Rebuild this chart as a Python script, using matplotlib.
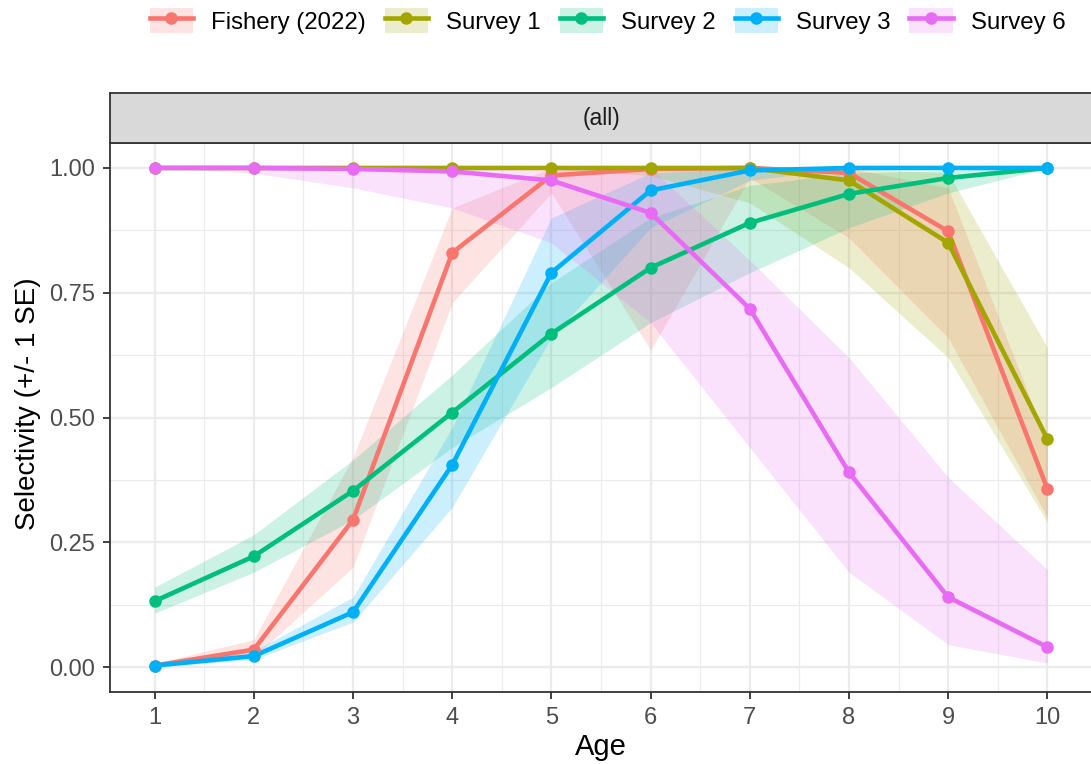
import matplotlib
matplotlib.use("Agg")
import matplotlib.pyplot as plt
from matplotlib.lines import Line2D
from matplotlib.patches import Patch
from matplotlib.legend_handler import HandlerTuple

plt.rcParams['font.family'] = ['Liberation Sans', 'DejaVu Sans']

ages = [1, 2, 3, 4, 5, 6, 7, 8, 9, 10]
series_names = ["Fishery (2022)", "Survey 1", "Survey 2", "Survey 3", "Survey 6"]

fishery = [0.003, 0.035, 0.295, 0.83, 0.985, 0.998, 1.0, 0.99, 0.873, 0.357]
fishery_lo = [0.0, 0.02, 0.20, 0.73, 0.95, 0.635, 0.98, 0.86, 0.66, 0.30]
fishery_hi = [0.007, 0.055, 0.42, 0.92, 1.0, 1.0, 1.0, 1.0, 0.96, 0.45]

survey1 = [1.0, 1.0, 1.0, 1.0, 1.0, 1.0, 1.0, 0.975, 0.85, 0.457]
survey1_lo = [0.999, 0.999, 0.999, 0.999, 0.998, 0.985, 0.93, 0.80, 0.62, 0.29]
survey1_hi = [1.0, 1.0, 1.0, 1.0, 1.0, 1.0, 1.0, 1.0, 0.99, 0.64]

survey2 = [0.132, 0.222, 0.353, 0.51, 0.668, 0.80, 0.89, 0.948, 0.98, 1.0]
survey2_lo = [0.108, 0.19, 0.295, 0.44, 0.56, 0.69, 0.79, 0.88, 0.95, 1.0]
survey2_hi = [0.16, 0.265, 0.415, 0.585, 0.77, 0.90, 0.965, 0.99, 0.995, 1.0]

survey3 = [0.003, 0.022, 0.11, 0.405, 0.79, 0.955, 0.995, 1.0, 1.0, 1.0]
survey3_lo = [0.0, 0.015, 0.09, 0.32, 0.66, 0.88, 0.975, 1.0, 1.0, 1.0]
survey3_hi = [0.006, 0.032, 0.14, 0.48, 0.90, 0.99, 1.0, 1.0, 1.0, 1.0]

survey6 = [1.0, 1.0, 0.998, 0.993, 0.975, 0.91, 0.718, 0.39, 0.14, 0.04]
survey6_lo = [1.0, 0.99, 0.96, 0.92, 0.85, 0.69, 0.44, 0.19, 0.045, 0.008]
survey6_hi = [1.0, 1.0, 1.0, 1.0, 1.0, 1.0, 0.815, 0.62, 0.38, 0.195]

colors = ["#F8766D", "#A3A500", "#00BF7D", "#00B0F6", "#E76BF3"]

values = [fishery, survey1, survey2, survey3, survey6]
lows = [fishery_lo, survey1_lo, survey2_lo, survey3_lo, survey6_lo]
highs = [fishery_hi, survey1_hi, survey2_hi, survey3_hi, survey6_hi]

W, H = 1091, 764
fig = plt.figure(figsize=(W / 100, H / 100), dpi=100)

left, right = 110, 1092
top, bottom = 143, 692
strip_top = 93
ax = fig.add_axes([left / W, 1 - bottom / H, (right - left) / W, (bottom - top) / H])
sax = fig.add_axes([left / W, 1 - top / H, (right - left) / W, (top - strip_top) / H])

ribbon_alpha = 0.2
lw = 3.3
ms = 8
for c, lo, hi in zip(colors, lows, highs):
    ax.fill_between(ages, lo, hi, color=c, alpha=ribbon_alpha, linewidth=0, zorder=2)
for c, v in zip(colors, values):
    ax.plot(ages, v, color=c, lw=lw, solid_capstyle='butt', solid_joinstyle='round', zorder=3)
for c, v in zip(colors, values):
    ax.plot(ages, v, color=c, lw=0, marker='o', markersize=ms, zorder=4)

ax.set_xlim(0.55, 10.45)
ax.set_ylim(-0.05, 1.05)
ax.set_xticks(ages)
ax.set_xticklabels([str(a) for a in ages])
ax.set_yticks([0, 0.25, 0.5, 0.75, 1.0])
ax.set_yticklabels(["0.00", "0.25", "0.50", "0.75", "1.00"])
ax.set_xticks([a + 0.5 for a in ages[:-1]], minor=True)
ax.set_yticks([0.125, 0.375, 0.625, 0.875], minor=True)
ax.grid(which='major', color='#EBEBEB', lw=1.6, zorder=0)
ax.grid(which='minor', color='#EBEBEB', lw=0.8, zorder=0)
ax.set_axisbelow(True)
ax.tick_params(which='major', length=5, width=1.3, color='#333333',
               labelsize=17, labelcolor='#4D4D4D', pad=5.5)
ax.tick_params(which='minor', length=0)
for s in ax.spines.values():
    s.set_color('#333333')
    s.set_linewidth(1.3)
ax.set_xlabel("Age", fontsize=21, color='black', labelpad=3)
ax.set_ylabel("Selectivity (+/- 1 SE)", fontsize=20, color='black')
ax.yaxis.set_label_coords(-0.07, 0.526)

sax.set_facecolor('#D9D9D9')
sax.set_xticks([])
sax.set_yticks([])
for s in sax.spines.values():
    s.set_color('#333333')
    s.set_linewidth(1.3)
sax.text(0.5, 0.5, "(all)", transform=sax.transAxes, ha='center', va='center',
         fontsize=16.5, color='#1A1A1A')

handles = []
for c in colors:
    p = Patch(facecolor=c, alpha=ribbon_alpha, edgecolor='none')
    l = Line2D([], [], color=c, lw=lw, marker='o', markersize=ms)
    handles.append((p, l))
fig.legend(handles, series_names, loc='center', bbox_to_anchor=(0.557, 0.973),
           ncol=5, frameon=False, fontsize=17.3, handlelength=1.8, handleheight=1.25,
           handletextpad=0.77, columnspacing=0.77, borderpad=0.2,
           handler_map={tuple: HandlerTuple(ndivide=1, pad=0)})

fig.savefig("out.png", dpi=100)
